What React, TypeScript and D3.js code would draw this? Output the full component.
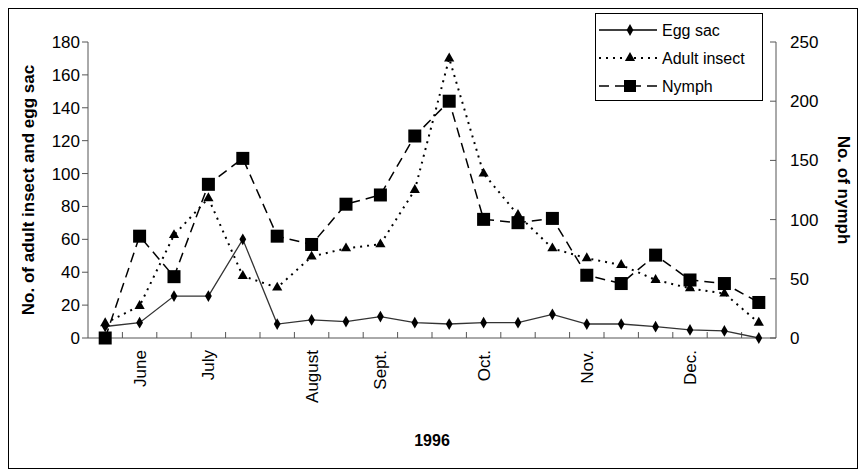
import * as d3 from "d3";

const eggSac = [7, 9.3, 25.5, 25.5, 60, 8.5, 11, 10, 13, 9.3, 8.5, 9.3, 9.3, 14.4, 8.5, 8.5, 6.9, 4.9, 4.3, 0];
const adult = [9, 19.5, 62.6, 85, 37.7, 30.6, 49.5, 54.5, 57, 90, 170, 100, 74.8, 54.5, 48.5, 44.4, 35.3, 30.2, 27, 9.3];
const nymph = [0, 86, 51.8, 129.8, 151.7, 86, 79, 113, 120.8, 170.6, 200, 100.2, 97.4, 101, 53, 46, 70, 49, 46, 30];
const monthLabels: [number, string][] = [
  [1, "June"], [3, "July"], [6, "August"], [8, "Sept."], [11, "Oct."], [14, "Nov."], [17, "Dec."],
];
const leftTicks = [0, 20, 40, 60, 80, 100, 120, 140, 160, 180];
const rightTicks = [0, 50, 100, 150, 200, 250];

const W = 861, H = 473;
const x0 = 88, x1 = 776, yTop = 42, yBot = 338;
const font = "'Liberation Sans', Arial, sans-serif";

export default function App() {
  const idx = d3.range(eggSac.length);
  const x = d3.scaleBand<number>().domain(idx).range([x0, x1]);
  const cx = (i: number) => x(i)! + x.bandwidth() / 2;
  const yL = d3.scaleLinear().domain([0, 180]).range([yBot, yTop]);
  const yR = d3.scaleLinear().domain([0, 250]).range([yBot, yTop]);
  const line = (vals: number[], y: d3.ScaleLinear<number, number>) =>
    d3.line<number>().x((_, i) => cx(i)).y((d) => y(d))(vals)!;
  const diamond = d3.symbol(d3.symbolDiamond, 40)()!;
  const tri = d3.symbol(d3.symbolTriangle, 45)()!;

  const legend = [
    { label: "Egg sac", dash: "none", w: 1.3 },
    { label: "Adult insect", dash: "2 5", w: 2 },
    { label: "Nymph", dash: "10 6", w: 1.5 },
  ];
  const legY = [30, 58, 86];

  return (
    <svg width={W} height={H} style={{ position: "absolute", left: 0, top: 0 }} fontFamily={font}>
      <rect x={8.5} y={8.5} width={849} height={460} fill="white" stroke="black" />
      <line x1={x0} x2={x0} y1={yTop} y2={yBot} stroke="#555" />
      <line x1={x1} x2={x1} y1={yTop} y2={yBot} stroke="#555" />
      <line x1={x0} x2={x1} y1={yBot} y2={yBot} stroke="#555" />
      {leftTicks.map((t) => (
        <g key={"l" + t}>
          <line x1={x0 - 6} x2={x0} y1={yL(t)} y2={yL(t)} stroke="#555" />
          <text x={x0 - 8} y={yL(t)} dy="0.35em" textAnchor="end" fontSize={17}>{t}</text>
        </g>
      ))}
      {rightTicks.map((t) => (
        <g key={"r" + t}>
          <line x1={x1 - 6} x2={x1} y1={yR(t)} y2={yR(t)} stroke="#555" />
          <text x={x1 + 14} y={yR(t)} dy="0.35em" fontSize={17}>{t}</text>
        </g>
      ))}
      {idx.slice(1).map((i) => (
        <line key={"x" + i} x1={x(i)} x2={x(i)} y1={yBot - 6} y2={yBot} stroke="#555" />
      ))}
      {monthLabels.map(([i, m]) => (
        <text key={m} transform={`translate(${cx(i) + 6},${yBot + 12}) rotate(-90)`} textAnchor="end" fontSize={17}>{m}</text>
      ))}
      <text x={432} y={446} textAnchor="middle" fontSize={16} fontWeight="bold">1996</text>
      <text transform={`translate(34,${(yTop + yBot) / 2}) rotate(-90)`} textAnchor="middle" fontSize={17} fontWeight="bold">No. of adult insect and egg sac</text>
      <text transform={`translate(838,${(yTop + yBot) / 2}) rotate(90)`} textAnchor="middle" fontSize={17} fontWeight="bold">No. of nymph</text>
      <path d={line(eggSac, yL)} fill="none" stroke="#333" strokeWidth={1.3} />
      <path d={line(adult, yL)} fill="none" stroke="black" strokeWidth={2} strokeDasharray="2 5" />
      <path d={line(nymph, yR)} fill="none" stroke="black" strokeWidth={1.5} strokeDasharray="10 6" />
      {eggSac.map((v, i) => <path key={"e" + i} d={diamond} transform={`translate(${cx(i)},${yL(v)})`} />)}
      {adult.map((v, i) => <path key={"a" + i} d={tri} transform={`translate(${cx(i)},${yL(v)})`} />)}
      {nymph.map((v, i) => <rect key={"n" + i} x={cx(i) - 6.5} y={yR(v) - 6.5} width={13} height={13} />)}
      <rect x={595.5} y={13.5} width={167} height={87} fill="white" stroke="black" />
      {legend.map((s, k) => (
        <g key={k}>
          <line x1={599} x2={657} y1={legY[k]} y2={legY[k]} stroke="black" strokeWidth={s.w} strokeDasharray={s.dash} />
          {k === 0 && <path d={diamond} transform={`translate(630,${legY[k]})`} />}
          {k === 1 && <path d={tri} transform={`translate(630,${legY[k]})`} />}
          {k === 2 && <rect x={624} y={legY[k] - 6} width={12} height={12} />}
          <text x={662} y={legY[k]} dy="0.35em" fontSize={16}>{s.label}</text>
        </g>
      ))}
    </svg>
  );
}
